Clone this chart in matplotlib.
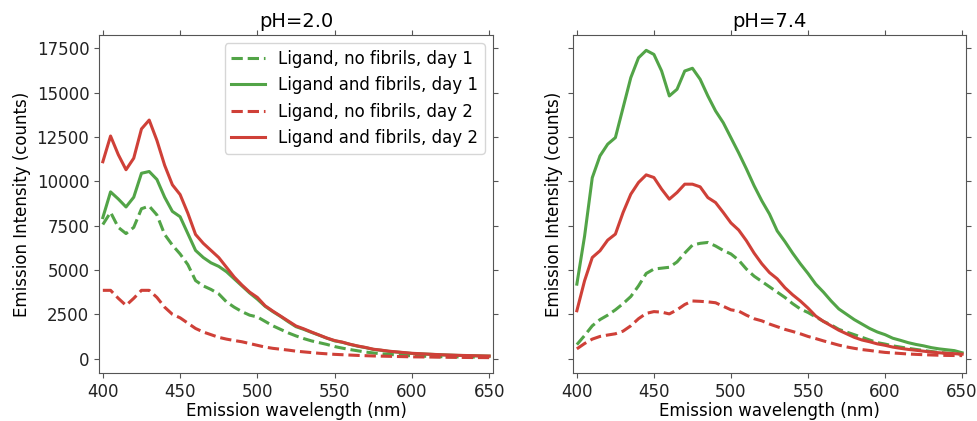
import numpy as np
import matplotlib
matplotlib.use("Agg")
import matplotlib.pyplot as plt

# wavelength grid (nm), 5 nm steps
wavelength = np.arange(400, 651, 5)

# pH 2.0
ph2_nofib_day1 = [7560, 8250, 7400, 7050, 7400, 8450, 8600, 8100, 7000, 6400,
                  5900, 5300, 4400, 4100, 3900, 3650, 3200, 2900, 2650, 2450,
                  2350, 2100, 1850, 1650, 1450, 1280, 1130, 1000, 900, 800,
                  680, 590, 510, 440, 370, 320, 270, 240, 210, 180,
                  160, 140, 130, 115, 105, 100, 95, 90, 85, 85, 80]
ph2_fib_day1 = [7950, 9400, 9000, 8550, 9100, 10450, 10550, 10100, 9100, 8300,
                8000, 7050, 6100, 5700, 5400, 5200, 4900, 4500, 4100, 3700,
                3350, 2950, 2650, 2380, 2080, 1800, 1650, 1480, 1320, 1150,
                1000, 920, 800, 700, 620, 520, 470, 410, 370, 330,
                290, 270, 250, 230, 210, 195, 180, 170, 160, 150, 140]
ph2_nofib_day2 = [3850, 3850, 3400, 3000, 3400, 3850, 3850, 3450, 2900, 2500,
                  2300, 2000, 1700, 1500, 1350, 1200, 1100, 1020, 950, 850,
                  750, 650, 580, 530, 480, 420, 380, 340, 300, 270,
                  240, 220, 200, 180, 165, 150, 140, 130, 120, 110,
                  100, 95, 90, 85, 80, 75, 70, 65, 60, 58, 55]
ph2_fib_day2 = [11100, 12550, 11500, 10650, 11300, 12950, 13450, 12300, 10900, 9800,
                9250, 8200, 7000, 6500, 6100, 5700, 5150, 4600, 4150, 3750,
                3450, 2980, 2680, 2400, 2120, 1840, 1680, 1500, 1330, 1160,
                1020, 930, 810, 710, 630, 530, 480, 420, 380, 340,
                300, 280, 255, 235, 215, 200, 185, 175, 165, 155, 145]

# pH 7.4
ph7_nofib_day1 = [790, 1300, 1850, 2200, 2450, 2750, 3100, 3500, 4100, 4800,
                  5050, 5100, 5150, 5450, 5950, 6400, 6500, 6550, 6350, 6100,
                  5900, 5550, 5050, 4650, 4350, 4050, 3750, 3450, 3100, 2800,
                  2600, 2350, 2100, 1900, 1650, 1500, 1350, 1200, 1050, 900,
                  820, 720, 650, 580, 520, 460, 400, 350, 310, 290, 260]
ph7_fib_day1 = [4200, 6900, 10200, 11430, 12090, 12460, 14150, 15840, 16960, 17380,
                17150, 16215, 14810, 15185, 16215, 16370, 15750, 14810, 13965, 13300,
                12450, 11600, 10700, 9750, 8900, 8150, 7200, 6600, 5950, 5350,
                4800, 4200, 3750, 3250, 2800, 2500, 2200, 1950, 1700, 1500,
                1350, 1150, 1030, 900, 800, 720, 620, 550, 500, 450, 330]
ph7_nofib_day2 = [550, 850, 1100, 1250, 1330, 1400, 1550, 1850, 2250, 2550,
                  2650, 2620, 2520, 2750, 3050, 3250, 3230, 3200, 3150, 2950,
                  2750, 2680, 2450, 2250, 2130, 1950, 1800, 1650, 1530, 1400,
                  1250, 1130, 1000, 880, 760, 660, 580, 510, 460, 400,
                  350, 320, 290, 260, 240, 220, 205, 190, 180, 175, 170]
ph7_fib_day2 = [2700, 4390, 5700, 6080, 6680, 7020, 8240, 9270, 9930, 10360,
                10210, 9555, 8990, 9365, 9835, 9835, 9685, 9080, 8800, 8240,
                7650, 7250, 6650, 5950, 5350, 4850, 4500, 4000, 3600, 3250,
                2850, 2400, 2100, 1850, 1600, 1400, 1200, 1050, 950, 830,
                750, 650, 580, 520, 470, 420, 370, 330, 300, 280, 250]

titles = ["pH=2.0", "pH=7.4"]
labels = ["Ligand, no fibrils, day 1", "Ligand and fibrils, day 1",
          "Ligand, no fibrils, day 2", "Ligand and fibrils, day 2"]

GREEN = "#52a447"
RED = "#cf4038"


def draw_panel(ax, series, title):
    styles = [(GREEN, "--"), (GREEN, "-"), (RED, "--"), (RED, "-")]
    for ys, (c, ls), lab in zip(series, styles, labels):
        ax.plot(wavelength, ys, color=c, ls=ls, lw=2.2, label=lab)
    ax.set_title(title, fontsize=14)
    ax.set_xlabel("Emission wavelength (nm)", fontsize=12, labelpad=1)
    ax.set_ylabel("Emission Intensity (counts)", fontsize=12)
    ax.set_xlim(397.5, 652.5)
    ax.set_xticks([400, 450, 500, 550, 600, 650])
    ax.tick_params(direction="out", top=True, right=True, labelsize=12,
                   color="#555555", labelcolor="#222222")
    for sp in ax.spines.values():
        sp.set_color("#555555")


if __name__ == "__main__":
    fig = plt.figure(figsize=(9.78, 4.21), dpi=100)
    ax1 = fig.add_axes([0.1012, 0.114, 0.4029, 0.8029])
    ax2 = fig.add_axes([0.5859, 0.114, 0.4018, 0.8029], sharey=ax1)

    draw_panel(ax1, [ph2_nofib_day1, ph2_fib_day1, ph2_nofib_day2, ph2_fib_day2], titles[0])
    draw_panel(ax2, [ph7_nofib_day1, ph7_fib_day1, ph7_nofib_day2, ph7_fib_day2], titles[1])
    ax2.tick_params(labelleft=False)
    ax1.set_yticks(np.arange(0, 17501, 2500))

    ax1.legend(loc="upper right", fontsize=12)
    fig.savefig("out.png", dpi=100)
